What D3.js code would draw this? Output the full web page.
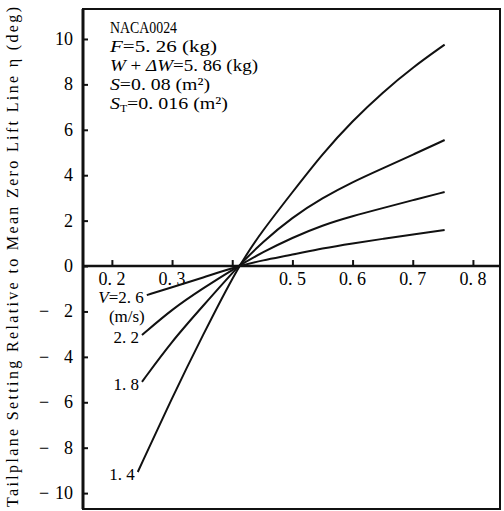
<!DOCTYPE html>
<html>
<head>
<meta charset="utf-8">
<script src="https://cdn.jsdelivr.net/npm/d3@7"></script>
<style>
  body { margin: 0; background: #fff; }
</style>
</head>
<body>
<svg id="chart"></svg>
<script>
// tailplane setting vs CL, for several flight speeds
const speeds = ["1.4", "1.8", "2.2", "2.6"];
const startX = [0.243, 0.25, 0.25, 0.258];
const alpha = [0.30, 0.35, 0.41, 0.45, 0.50, 0.55, 0.60, 0.65, 0.70, 0.753];
const eta14 = [-9.07, -5.8, -3.1, 0, 1.55, 3.25, 4.95, 6.4, 7.65, 8.75, 9.75];
const eta18 = [-5.1, -3.3, -1.8, 0, 1.05, 2.15, 3.0, 3.7, 4.3, 4.9, 5.55];
const eta22 = [-3.04, -1.9, -1.0, 0, 0.6, 1.25, 1.8, 2.2, 2.55, 2.9, 3.26];
const eta26 = [-1.28, -0.93, -0.52, 0, 0.25, 0.5, 0.78, 1.0, 1.2, 1.38, 1.59];
const etaAll = [eta14, eta18, eta22, eta26];

const xTicks = [0.2, 0.3, 0.4, 0.5, 0.6, 0.7, 0.8];
const xTickLabels = ["0. 2", "0. 3", "", "0. 5", "0. 6", "0. 7", "0. 8"];
const yTicks = [10, 8, 6, 4, 2, 0, -2, -4, -6, -8, -10];

const width = 504, height = 511;
const serif = "Liberation Serif";
const svg = d3.select("#chart")
    .attr("width", width).attr("height", height)
    .attr("font-family", serif)
    .style("font-family", serif);

let x = d3.scaleLinear().domain([0.152, 0.845]).range([83, 500]);
let y = d3.scaleLinear().domain([-10.7, 11.32]).range([509, 9]);

// frame
svg.append("rect")
    .attr("x", x.range()[0]).attr("y", y.range()[1])
    .attr("width", x.range()[1] - x.range()[0])
    .attr("height", y.range()[0] - y.range()[1])
    .attr("fill", "none").attr("stroke", "#111").attr("stroke-width", 2);
svg.append("line")
    .attr("x1", x.range()[0]).attr("x2", x.range()[0])
    .attr("y1", y.range()[1]).attr("y2", y.range()[0])
    .attr("stroke", "#111").attr("stroke-width", 3);

// y axis, ticks point inward
let yAxis = svg.append("g")
    .attr("transform", `translate(${x.range()[0]},0)`)
    .call(d3.axisRight(y).tickValues(yTicks).tickSize(5).tickFormat(""));
yAxis.select(".domain").remove();
yAxis.selectAll("line").attr("stroke", "#111").attr("stroke-width", 2);

svg.selectAll(".ylab")
    .data(yTicks)
    .enter().append("text")
        .classed("ylab", true)
        .attr("x", 73)
        .attr("y", d => y(d) + 6)
        .attr("text-anchor", "end")
        .attr("font-size", 18)
        .text(d => Math.abs(d));
svg.selectAll(".yminus")
    .data(yTicks.filter(d => d < 0))
    .enter().append("text")
        .classed("yminus", true)
        .attr("x", 44)
        .attr("y", d => y(d) + 6)
        .attr("text-anchor", "middle")
        .attr("font-size", 18)
        .text("\u2212");

// x axis at eta = 0, ticks pointing up
let xAxis = svg.append("g")
    .attr("transform", `translate(0,${y(0)})`)
    .call(d3.axisTop(x).tickValues(xTicks).tickSize(6).tickFormat(""));
xAxis.select(".domain").remove();
xAxis.selectAll("line").attr("stroke", "#111").attr("stroke-width", 2);
svg.append("line")
    .attr("x1", x.range()[0]).attr("x2", x.range()[1])
    .attr("y1", y(0)).attr("y2", y(0))
    .attr("stroke", "#111").attr("stroke-width", 2.5);

svg.selectAll(".xlab")
    .data(xTicks)
    .enter().append("text")
        .classed("xlab", true)
        .attr("x", d => x(d))
        .attr("y", y(0) + 19)
        .attr("text-anchor", "middle")
        .attr("font-size", 18)
        .text((d, i) => xTickLabels[i]);

// curves
let line = d3.line()
    .x(d => x(d[0]))
    .y(d => y(d[1]))
    .curve(d3.curveBasis);

etaAll.forEach((eta, i) => {
    let pts = eta.map((e, j) => [j === 0 ? startX[i] : alpha[j - 1], e]);
    svg.append("path")
        .attr("d", line(pts))
        .attr("fill", "none")
        .attr("stroke", "#111")
        .attr("stroke-width", 2);

    let lab = svg.append("text")
        .attr("x", x(startX[i]) - 3)
        .attr("y", y(eta[0]) + 8)
        .attr("text-anchor", "end")
        .attr("font-size", 17);
    if (speeds[i] === "2.6") {
        lab.append("tspan").attr("font-style", "italic").text("V");
        lab.append("tspan").text("=2. 6");
        svg.append("text")
            .attr("x", x(startX[i]) - 2)
            .attr("y", y(eta[0]) + 27)
            .attr("text-anchor", "end")
            .attr("font-size", 17)
            .text("(m/s)");
    } else {
        lab.text(speeds[i].replace(".", ". "));
    }
});

// parameter block
const blockX = 110;
let block = [
    { parts: [["NACA0024", ""]], w: 67 },
    { parts: [["F", "italic"], ["=5. 26 (kg)", ""]], w: 107 },
    { parts: [["W", "italic"], [" + ", ""], ["\u0394W", "italic"], ["=5. 86 (kg)", ""]], w: 148 },
    { parts: [["S", "italic"], ["=0. 08 (m\u00b2)", ""]], w: 100 },
    { parts: [["S", "italic"], ["T", "sub"], ["=0. 016 (m\u00b2)", ""]], w: 118 }
];
block.forEach((b, i) => {
    let t = svg.append("text")
        .attr("x", blockX)
        .attr("y", 33 + i * 19)
        .attr("font-size", 17)
        .attr("textLength", b.w)
        .attr("lengthAdjust", "spacingAndGlyphs");
    b.parts.forEach(p => {
        let s = t.append("tspan").text(p[0]);
        if (p[1] === "italic") s.attr("font-style", "italic");
        if (p[1] === "sub") s.attr("font-size", 10).attr("dy", 3);
        if (p[1] === "" && b.parts.some(q => q[1] === "sub")) s.attr("dy", -3);
    });
});

// y axis title
svg.append("text")
    .attr("transform", "translate(18,7) rotate(-90)")
    .attr("text-anchor", "end")
    .attr("font-size", 16)
    .attr("textLength", 500)
    .attr("lengthAdjust", "spacing")
    .text("Tailplane Setting Relative to Mean Zero Lift Line \u03b7 (deg)");
</script>
</body>
</html>
